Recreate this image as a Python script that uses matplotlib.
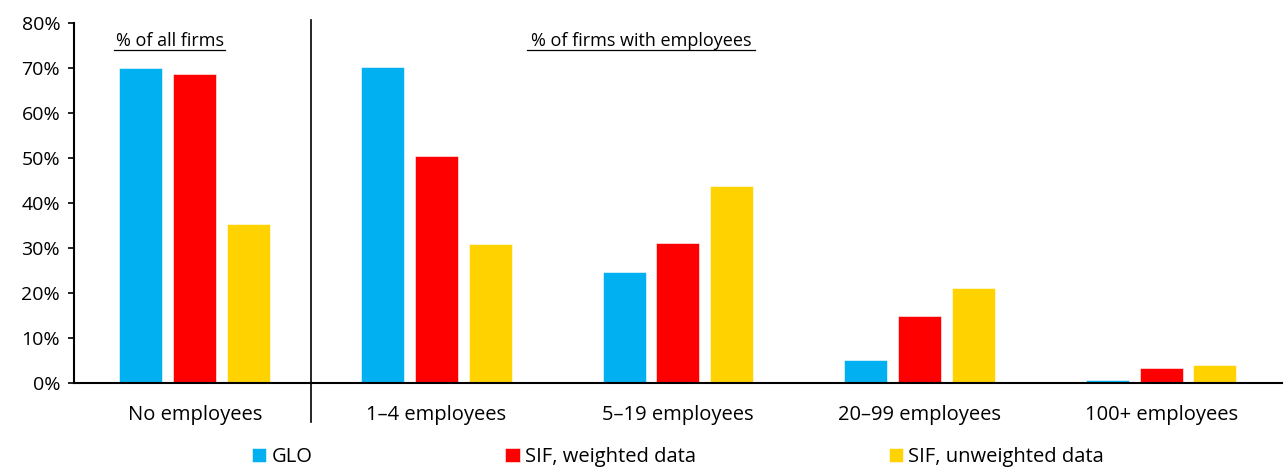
import matplotlib.pyplot as plt
import numpy as np
from matplotlib.ticker import PercentFormatter
import matplotlib.transforms as mtransforms

plt.rcParams['font.family'] = ['Open Sans', 'DejaVu Sans']

categories = ['No employees', '1\u20134 employees', '5\u201319 employees',
              '20\u201399 employees', '100+ employees']
series_names = ['GLO', 'SIF, weighted data', 'SIF, unweighted data']
glo = [70.0, 70.2, 24.7, 5.1, 0.6]
sif_weighted = [68.7, 50.4, 31.1, 14.9, 3.3]
sif_unweighted = [35.3, 30.9, 43.8, 21.1, 4.0]
colors = ['#00B0F0', '#FF0000', '#FFD200']

fig = plt.figure(figsize=(12.85, 4.68), dpi=100)
ax = fig.add_axes([0.0576, 0.1816, 0.940, 0.7693])

x = np.arange(len(categories))
width = 0.178
step = 0.223
for i, (vals, name) in enumerate(zip([glo, sif_weighted, sif_unweighted], series_names)):
    ax.bar(x + (i - 1) * step, vals, width, color=colors[i], label=name,
           edgecolor='white', linewidth=0.4)

ax.set_xlim(-0.5, 4.5)
ax.set_ylim(0, 80)
ax.set_yticks(np.arange(0, 81, 10))
ax.yaxis.set_major_formatter(PercentFormatter(decimals=0))
ax.set_xticks(x)
ax.set_xticklabels(categories)
ax.tick_params(axis='x', length=0, pad=16, labelsize=14.5)
ax.tick_params(axis='y', length=4, width=1.2, direction='out', pad=6, labelsize=14)
for s in ['top', 'right']:
    ax.spines[s].set_visible(False)
for s in ['left', 'bottom']:
    ax.spines[s].set_linewidth(1.5)
    ax.spines[s].set_color('black')

# separator between "all firms" and "firms with employees"
trans = mtransforms.blended_transform_factory(ax.transData, ax.transAxes)
ax.plot([0.48, 0.48], [1.008, -0.108], color='black', lw=1.2,
        transform=trans, clip_on=False)

# underlined section headers
def header(xc, txt, halfw):
    ax.text(xc, 0.936, txt, ha='center', va='baseline', fontsize=13, transform=trans)
    ax.plot([xc - halfw, xc + halfw], [0.926, 0.926], color='black',
            lw=0.9, transform=trans, clip_on=False)

header(-0.103, '% of all firms', 0.23)
header(1.847, '% of firms with employees', 0.472)

ax.legend(loc='center', bbox_to_anchor=(0.5, -0.205), ncol=3, frameon=False,
          fontsize=14.5, handlelength=0.7, handleheight=0.7, handletextpad=0.25,
          columnspacing=9.6)

fig.savefig('out.png', dpi=100)
